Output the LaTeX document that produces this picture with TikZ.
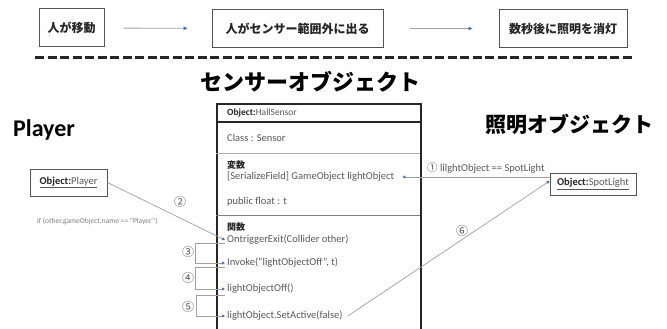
\documentclass[tikz,border=0pt]{standalone}
\usepackage{fontspec}
\setmainfont{Carlito}
\newfontfamily\jp{Noto Sans CJK JP}
\usetikzlibrary{arrows.meta}
\definecolor{dark}{HTML}{262626}
\definecolor{txtgray}{HTML}{595959}
\definecolor{boxgray}{HTML}{555555}
\definecolor{linegray}{HTML}{A0A0A0}
\definecolor{arrowblue}{HTML}{4472C4}
\definecolor{seplight}{HTML}{B0B0B0}
\definecolor{sepdark}{HTML}{808080}
\begin{document}
\begin{tikzpicture}[x=1pt,y=-1pt,
  topbox/.style={draw=boxgray, line width=1pt, minimum height=38pt, inner sep=0pt,
    font=\jp\bfseries\fontsize{12}{14}\selectfont, text=dark},
  flow/.style={draw=linegray, line width=0.8pt, -{Triangle[length=4pt,width=3.5pt,color=arrowblue]}},
  conn/.style={draw=linegray, line width=0.7pt, -{Triangle[length=3pt,width=3pt,color=arrowblue]}},
  htext/.style={anchor=west, inner sep=2pt, font=\fontsize{10.5}{12}\selectfont, text=txtgray},
  jpb/.style={font=\jp\bfseries\fontsize{9}{11}\selectfont, text=dark},
  objbox/.style={draw=boxgray, line width=0.9pt, inner sep=0pt, font=\fontsize{10.5}{12}\selectfont, text=txtgray},
  circ/.style={font=\jp\fontsize{12}{14}\selectfont, text=txtgray, inner sep=0pt},
  lbl/.style={font=\fontsize{10.5}{12}\selectfont, text=txtgray, inner sep=0pt},
  title/.style={font=\jp\bfseries\fontsize{22}{24}\selectfont, text=black, inner sep=0pt}
]
\useasboundingbox (0,0) rectangle (667,329);
\fill[white] (0,0) rectangle (667,329);
\clip (0,0) rectangle (667,329);

% top flow
\node[topbox, minimum width=65pt] (b1) at (71.5,28) {人が移動};
\node[topbox, minimum width=171pt] (b2) at (297.5,28.5) {人がセンサー範囲外に出る};
\node[topbox, minimum width=128pt] (b3) at (563,28.5) {数秒後に照明を消灯};
\draw[flow, shorten <=19pt, shorten >=24pt] (b1) -- (b2);
\draw[flow, shorten <=26pt, shorten >=26pt] (b2) -- (b3);

% dashed separator
\draw[dark, line width=3pt, dash pattern=on 9pt off 3.5pt] (35,58) -- (632,58);

% titles
\node[title] (t1) at (310,82) {センサーオブジェクト};
\node[title, font=\jp\bfseries\fontsize{21}{23}\selectfont] (t2) at (569,124) {照明オブジェクト};
\node[font=\bfseries\fontsize{24}{26}\selectfont, inner sep=0pt] (t3) at (44,130) {Player};

% Hall sensor box
\node[draw=dark, line width=1.6pt, minimum width=204pt, minimum height=245pt, anchor=north west, inner sep=0pt] (hall) at (216,103) {};
\draw[dark, line width=1.6pt] (216,122) -- (420,122);
\draw[seplight, line width=0.6pt] (216,153) -- (420,153);
\draw[sepdark, line width=0.8pt] (216,215) -- (420,215);

\node[htext, font=\fontsize{9.5}{11}\selectfont] (hdr) at (225,113) {\textcolor{dark}{\textbf{Object:}}HallSensor};
\node[htext] (cls) at (225,138) {Class : Sensor};
\node[htext, jpb] (hen) at (225,165) {変数};
\node[htext] (ser) at (225,177) {[SerializeField] GameObject lightObject};
\node[htext] (pf) at (225,202) {public float : t};
\node[htext, jpb] (kan) at (225,227) {関数};
\node[htext] (ote) at (225,240) {OntriggerExit(Collider other)};
\node[htext] (inv) at (225,263) {Invoke("lightObjectOff", t)};
\node[htext] (loo) at (225,289) {lightObjectOff()};
\node[htext] (sa) at (225,316) {lightObject.SetActive(false)};

% Player object
\node[objbox, minimum width=77pt, minimum height=27pt] (pl) at (68.5,182.5) {\underline{\textcolor{dark}{\textbf{Object:}}Player}};
\node[anchor=west, inner sep=0pt, font=\fontsize{7.5}{9}\selectfont, text=gray] (cond) at (37,221) {if (other.gameObject.name == ``Player'')};

% SpotLight object
\node[objbox, minimum width=86pt, minimum height=22pt] (sp) at (593,184) {\underline{\textcolor{dark}{\textbf{Object:}}SpotLight}};

% connectors
\draw[conn] (pl.east) -- (ote.west);
\node[circ] (n2) at (180,202) {②};
\draw[conn] ([yshift=-3pt]ote.west) -- ++(-30,0) |- (inv.west);
\node[circ] (n3) at (188,252) {③};
\draw[conn] ([yshift=-4pt]inv.west) -- ++(-30,0) |- (loo.west);
\node[circ] (n4) at (188,278) {④};
\draw[conn] ([yshift=-6pt]loo.west) -- ++(-29,0) |- (sa.west);
\node[circ] (n5) at (188,307) {⑤};

\draw[conn] (sp.west |- ser.east) -- ([xshift=6pt]ser.east);
\node[lbl, anchor=west] (l1) at (427,168) {{\jp ①} lilghtObject == SpotLight};
\draw[conn] ([xshift=3pt]sa.east) -- ([yshift=3pt]sp.west);
\node[circ] (n6) at (462,231) {⑥};
\end{tikzpicture}
\end{document}
